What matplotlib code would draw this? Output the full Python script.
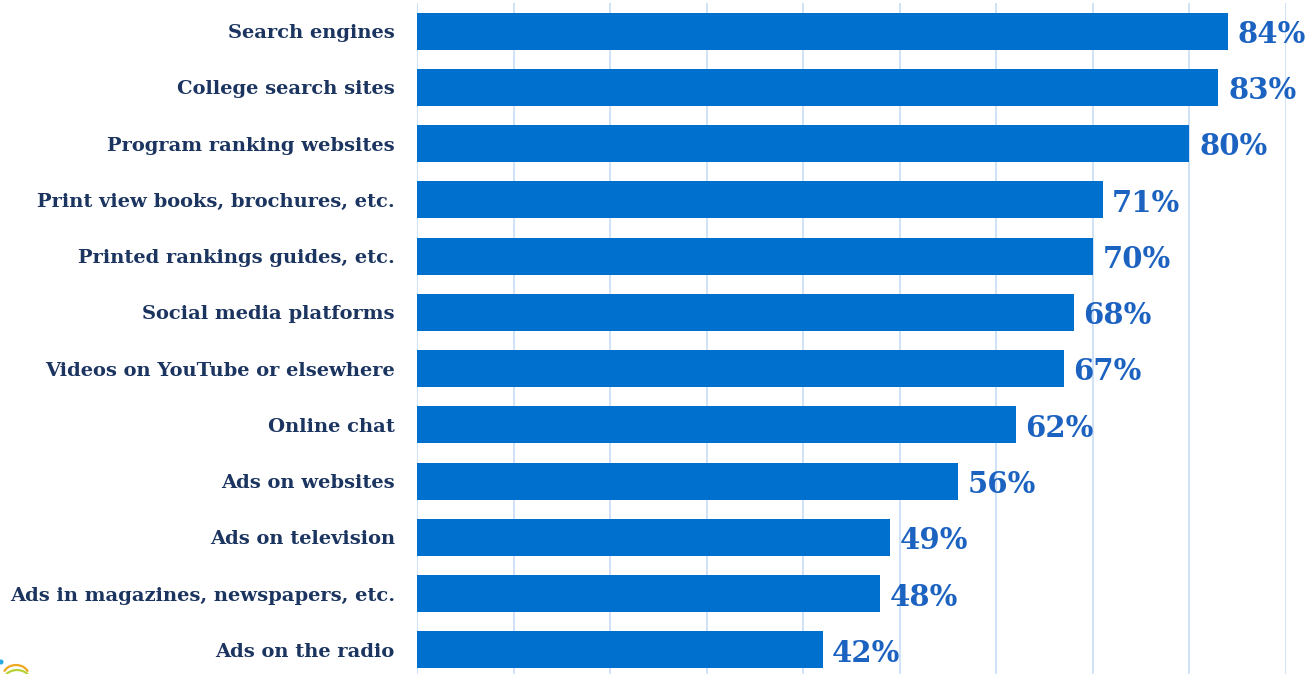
import matplotlib.pyplot as plt
from matplotlib.patches import Arc, Circle

categories = [
    "Search engines",
    "College search sites",
    "Program ranking websites",
    "Print view books, brochures, etc.",
    "Printed rankings guides, etc.",
    "Social media platforms",
    "Videos on YouTube or elsewhere",
    "Online chat",
    "Ads on websites",
    "Ads on television",
    "Ads in magazines, newspapers, etc.",
    "Ads on the radio",
]
values = [84, 83, 80, 71, 70, 68, 67, 62, 56, 49, 48, 42]
gridlines = [0, 10, 20, 30, 40, 50, 60, 70, 80, 90]

W, H = 1309, 674
fig = plt.figure(figsize=(W / 100, H / 100), dpi=100)
fig.patch.set_facecolor("white")

# axes placed in pixel terms; bottom runs a little past the figure edge
left, right, top, bottom = 417, 1286, 3, 678
ax = fig.add_axes([left / W, (H - bottom) / H, (right - left) / W, (bottom - top) / H])

ypos = list(range(len(categories)))
ax.barh(ypos, values, height=0.66, color="#0070cf", zorder=2)

for x in gridlines:
    ax.axvline(x, color="#cfe2f8", linewidth=1.4, zorder=1)

for y, v in zip(ypos, values):
    ax.text(v + 1.0, y + 0.06, f"{v}%", ha="left", va="center",
            fontsize=21, fontweight="bold", color="#1c62c0",
            family="DejaVu Serif", clip_on=False)

ax.set_xlim(0, 90)
ax.set_ylim(len(categories) - 0.5, -0.5)
ax.set_yticks(ypos)
ax.set_yticklabels(categories, fontsize=14.0, fontweight="bold",
                   color="#1b3560", family="DejaVu Serif")
ax.tick_params(axis="y", length=0, pad=16)
ax.set_xticks([])
for s in ax.spines.values():
    s.set_visible(False)

# small logo fragment in the lower left corner
deco = fig.add_axes([0, 0, 1, 1], facecolor="none")
deco.set_xlim(0, W)
deco.set_ylim(H, 0)
deco.axis("off")
deco.add_patch(Circle((1, 662), 1.8, color="#29a8e0"))
deco.add_patch(Arc((16, 676), 26, 22, theta1=200, theta2=340, color="#f0a820", lw=1.6))
deco.add_patch(Arc((17, 682), 28, 24, theta1=200, theta2=340, color="#b5d334", lw=1.6))

fig.savefig("out.png", dpi=100, facecolor="white")
